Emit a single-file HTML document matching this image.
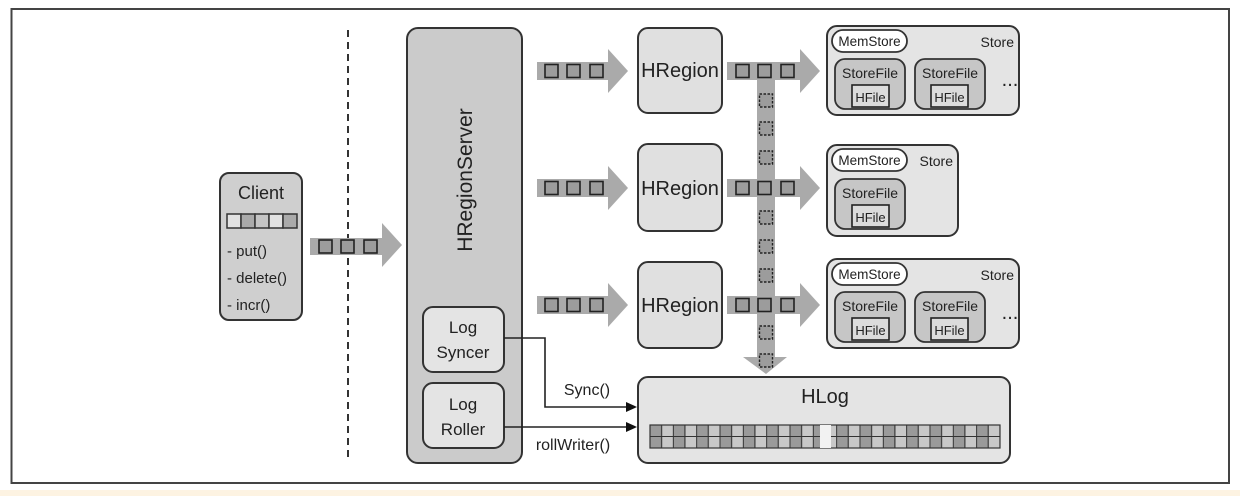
<!DOCTYPE html>
<html><head><meta charset="utf-8"><style>
html,body{margin:0;padding:0;background:#fff}
svg{display:block}
text{font-family:"Liberation Sans",sans-serif;fill:#222}
</style></head><body>
<svg width="1240" height="496" viewBox="0 0 1240 496" xmlns="http://www.w3.org/2000/svg">
<defs>
<pattern id="grid" x="650" y="425" width="23.33" height="11.5" patternUnits="userSpaceOnUse">
<rect x="0" y="0" width="11.67" height="11.5" fill="#9a9a9a" stroke="#333" stroke-width="1"/>
<rect x="11.67" y="0" width="11.67" height="11.5" fill="#c8c8c8" stroke="#333" stroke-width="1"/>
</pattern>
<g id="sq3">
<rect x="0" y="0" width="13" height="13" fill="#9c9c9c" stroke="#222" stroke-width="1.6"/>
<rect x="22" y="0" width="13" height="13" fill="#9c9c9c" stroke="#222" stroke-width="1.6"/>
<rect x="45" y="0" width="13" height="13" fill="#9c9c9c" stroke="#222" stroke-width="1.6"/>
</g>
</defs>
<rect x="0" y="490" width="1240" height="6" fill="#fdf3e2"/>
<rect x="11.5" y="9" width="1217.5" height="474" fill="#fff" stroke="#444" stroke-width="2"/>

<!-- dashed divider -->
<line x1="348" y1="30" x2="348" y2="460" stroke="#333" stroke-width="2" stroke-dasharray="7,5"/>

<!-- Client -->
<rect x="220" y="173" width="82" height="147" rx="9" fill="#cfcfcf" stroke="#333" stroke-width="2"/>
<text x="261" y="199" font-size="18" text-anchor="middle">Client</text>
<g stroke="#333" stroke-width="1.5">
<rect x="227" y="214" width="14" height="14" fill="#e2e2e2"/>
<rect x="241" y="214" width="14" height="14" fill="#aaa"/>
<rect x="255" y="214" width="14" height="14" fill="#c4c4c4"/>
<rect x="269" y="214" width="14" height="14" fill="#e2e2e2"/>
<rect x="283" y="214" width="14" height="14" fill="#aaa"/>
</g>
<text x="227" y="256" font-size="15">- put()</text>
<text x="227" y="283" font-size="15">- delete()</text>
<text x="227" y="310" font-size="15">- incr()</text>

<!-- client arrow -->
<rect x="310" y="238" width="75" height="17" fill="#aaa"/>
<polygon points="382,223 402,245 382,267" fill="#aaa"/>
<use href="#sq3" x="319" y="240"/>

<!-- HRegionServer -->
<rect x="407" y="28" width="115" height="435" rx="11" fill="#cbcbcb" stroke="#333" stroke-width="2"/>
<text transform="translate(472,180) rotate(-90)" font-size="21" text-anchor="middle">HRegionServer</text>
<rect x="423" y="307" width="81" height="65" rx="10" fill="#e4e4e4" stroke="#333" stroke-width="2"/>
<text x="463" y="333" font-size="17" text-anchor="middle">Log</text>
<text x="463" y="358" font-size="17" text-anchor="middle">Syncer</text>
<rect x="423" y="383" width="81" height="65" rx="10" fill="#e4e4e4" stroke="#333" stroke-width="2"/>
<text x="463" y="410" font-size="17" text-anchor="middle">Log</text>
<text x="463" y="435" font-size="17" text-anchor="middle">Roller</text>

<!-- sync / roll lines -->
<polyline points="504,338 545,338 545,407 628,407" fill="none" stroke="#222" stroke-width="1.6"/>
<polygon points="626,402 637,407 626,412" fill="#111"/>
<line x1="504" y1="427" x2="628" y2="427" stroke="#222" stroke-width="1.6"/>
<polygon points="626,422 637,427 626,432" fill="#111"/>
<text x="587" y="395" font-size="16" text-anchor="middle">Sync()</text>
<text x="573" y="450" font-size="16" text-anchor="middle">rollWriter()</text>

<!-- server -> region arrows -->
<g>
<rect x="537" y="62" width="75" height="18" fill="#aaa"/><polygon points="608,49 628,71 608,93" fill="#aaa"/><use href="#sq3" x="545" y="64.5"/>
<rect x="537" y="179" width="75" height="18" fill="#aaa"/><polygon points="608,166 628,188 608,210" fill="#aaa"/><use href="#sq3" x="545" y="181.5"/>
<rect x="537" y="296" width="75" height="18" fill="#aaa"/><polygon points="608,283 628,305 608,327" fill="#aaa"/><use href="#sq3" x="545" y="298.5"/>
</g>

<!-- HRegions -->
<g fill="#e0e0e0" stroke="#333" stroke-width="2">
<rect x="638" y="28" width="84" height="85" rx="10"/>
<rect x="638" y="144" width="84" height="87" rx="10"/>
<rect x="638" y="262" width="84" height="86" rx="10"/>
</g>
<text x="680" y="77" font-size="20" text-anchor="middle">HRegion</text>
<text x="680" y="195" font-size="20" text-anchor="middle">HRegion</text>
<text x="680" y="312" font-size="20" text-anchor="middle">HRegion</text>

<!-- vertical WAL arrow -->
<rect x="757" y="71" width="18" height="288" fill="#aaa"/>
<polygon points="743,357 787,357 766,374" fill="#aaa"/>

<!-- region -> store arrows -->
<rect x="727" y="62" width="77" height="18" fill="#aaa"/><polygon points="800,49 820,71 800,93" fill="#aaa"/><use href="#sq3" x="736" y="64.5"/>
<rect x="727" y="179" width="77" height="18" fill="#aaa"/><polygon points="800,166 820,188 800,210" fill="#aaa"/><use href="#sq3" x="736" y="181.5"/>
<rect x="727" y="296" width="77" height="18" fill="#aaa"/><polygon points="800,283 820,305 800,327" fill="#aaa"/><use href="#sq3" x="736" y="298.5"/>

<g fill="#9c9c9c" stroke="#222" stroke-width="1.4" stroke-dasharray="2.5,1.5">
<rect x="759.5" y="94" width="13" height="13"/>
<rect x="759.5" y="122" width="13" height="13"/>
<rect x="759.5" y="151" width="13" height="13"/>
<rect x="759.5" y="211" width="13" height="13"/>
<rect x="759.5" y="240" width="13" height="13"/>
<rect x="759.5" y="269" width="13" height="13"/>
<rect x="759.5" y="326" width="13" height="13"/>
<rect x="759.5" y="354" width="13" height="13"/>
</g>

<!-- Stores -->
<g id="store1" transform="translate(827,26)">
<rect x="0" y="0" width="192" height="89" rx="10" fill="#e4e4e4" stroke="#333" stroke-width="2"/>
<rect x="5" y="4" width="75" height="22" rx="11" fill="#fff" stroke="#333" stroke-width="1.8"/>
<text x="42.5" y="20" font-size="13.5" text-anchor="middle">MemStore</text>
<text x="187" y="21" font-size="14" text-anchor="end">Store</text>
<rect x="8" y="33" width="70" height="50" rx="10" fill="#c6c6c6" stroke="#333" stroke-width="1.8"/>
<text x="43" y="52" font-size="14" text-anchor="middle">StoreFile</text>
<rect x="25" y="59" width="37" height="22" fill="#dcdcdc" stroke="#222" stroke-width="1.6"/>
<text x="43.5" y="76" font-size="13" text-anchor="middle">HFile</text>
<rect x="88" y="33" width="70" height="50" rx="10" fill="#c6c6c6" stroke="#333" stroke-width="1.8"/>
<text x="123" y="52" font-size="14" text-anchor="middle">StoreFile</text>
<rect x="104" y="59" width="37" height="22" fill="#dcdcdc" stroke="#222" stroke-width="1.6"/>
<text x="122.5" y="76" font-size="13" text-anchor="middle">HFile</text>
<text x="183" y="60" font-size="20" text-anchor="middle">...</text>
</g>
<use href="#store1" x="0" y="233"/>
<g transform="translate(827,145)">
<rect x="0" y="0" width="131" height="91" rx="10" fill="#e4e4e4" stroke="#333" stroke-width="2"/>
<rect x="5" y="4" width="75" height="22" rx="11" fill="#fff" stroke="#333" stroke-width="1.8"/>
<text x="42.5" y="20" font-size="13.5" text-anchor="middle">MemStore</text>
<text x="126" y="21" font-size="14" text-anchor="end">Store</text>
<rect x="8" y="34" width="70" height="50" rx="10" fill="#c6c6c6" stroke="#333" stroke-width="1.8"/>
<text x="43" y="53" font-size="14" text-anchor="middle">StoreFile</text>
<rect x="25" y="60" width="37" height="22" fill="#dcdcdc" stroke="#222" stroke-width="1.6"/>
<text x="43.5" y="77" font-size="13" text-anchor="middle">HFile</text>
</g>

<!-- HLog -->
<rect x="638" y="377" width="372" height="86" rx="10" fill="#e4e4e4" stroke="#333" stroke-width="2"/>
<text x="825" y="403" font-size="20" text-anchor="middle">HLog</text>
<rect x="650" y="425" width="350" height="23" fill="url(#grid)" stroke="#333" stroke-width="1.2"/>
<rect x="820" y="425" width="11" height="23" fill="#f2f2f2"/>
</svg>
</body></html>
